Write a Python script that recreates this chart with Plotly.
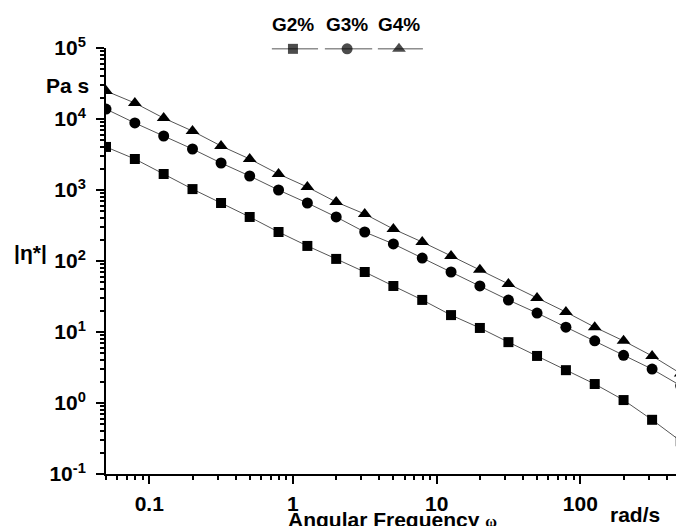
import plotly.graph_objects as go

# Angular frequency (rad/s)
omega = [0.05, 0.0794, 0.126, 0.2, 0.316, 0.5, 0.794, 1.26, 2.0, 3.16, 5.0, 7.94,
         12.6, 20.0, 31.6, 50.0, 79.4, 126.0, 200.0, 316.0, 500.0]

# Complex viscosity |eta*| (Pa s)
g2 = [4040, 2735, 1680, 1030, 656, 417, 256, 163, 107, 70, 44.5, 28.3,
      17.3, 11.4, 7.2, 4.6, 2.9, 1.85, 1.10, 0.58, 0.29]
g3 = [13800, 8790, 5760, 3780, 2400, 1575, 1000, 656, 417, 256, 174, 110,
      70, 44.5, 28.2, 18.5, 11.7, 7.5, 4.7, 3.0, 1.75]
g4 = [24800, 16800, 10300, 6760, 4170, 2735, 1680, 1100, 677, 459, 282, 185,
      118, 75, 47.4, 30.1, 19.1, 11.7, 7.5, 4.6, 2.6]

series_names = ["G2%", "G3%", "G4%"]
series_symbols = ["square", "circle", "triangle-up"]
series_sizes = [10, 11, 12]

y_tickvals = [0.1, 1, 10, 100, 1000, 10000, 100000]
y_ticktext = ["10<sup>-1</sup>", "10<sup>0</sup>", "10<sup>1</sup>", "10<sup>2</sup>",
              "10<sup>3</sup>", "10<sup>4</sup>", "10<sup>5</sup>"]
x_tickvals = [0.1, 1, 10, 100]
x_ticktext = ["0.1", "1", "10", "100"]

# legend key positions (overlay axis in plot-area fractions)
legend_x = [[0.291, 0.328, 0.372], [0.384, 0.423, 0.467], [0.477, 0.514, 0.556]]
legend_y = 0.998
legend_label_y = 1.056

FONT = "Liberation Sans, Arial, sans-serif"
LINE_COLOR = "#555555"

fig = go.Figure()
for name, ys, sym, sz in zip(series_names, [g2, g3, g4], series_symbols, series_sizes):
    fig.add_trace(go.Scatter(
        x=omega, y=ys, mode="lines+markers", name=name, showlegend=False,
        line=dict(color=LINE_COLOR, width=1),
        marker=dict(symbol=sym, size=sz, color="black", line=dict(width=0)),
        cliponaxis=True,
    ))

# legend keys
for name, lx, sym, sz in zip(series_names, legend_x, series_symbols, series_sizes):
    fig.add_trace(go.Scatter(
        x=lx, y=[legend_y] * 3, xaxis="x2", yaxis="y2", mode="lines+markers",
        showlegend=False, hoverinfo="skip", cliponaxis=False,
        line=dict(color=LINE_COLOR, width=1),
        marker=dict(symbol=sym, size=[0, sz, 0], color="black", line=dict(width=0)),
    ))
    fig.add_annotation(x=lx[1], y=legend_label_y, xref="paper", yref="paper",
                       text=name, showarrow=False, xanchor="center", yanchor="middle",
                       font=dict(family=FONT, size=19, color="black", weight="bold"))

axis_font = dict(family=FONT, size=21, color="black", weight="bold")

fig.update_layout(
    width=676, height=526,
    margin=dict(l=106, r=0, t=48, b=52, autoexpand=False),
    paper_bgcolor="white", plot_bgcolor="white",
    showlegend=False,
    xaxis=dict(
        type="log", range=[-1.301, 2.666], automargin=False,
        tickvals=x_tickvals, ticktext=x_ticktext,
        showline=True, linewidth=2, linecolor="black", mirror=False,
        ticks="outside", ticklen=8, tickwidth=2, tickcolor="black",
        ticklabelstandoff=2,
        minor=dict(ticks="outside", ticklen=4, tickwidth=1.5, tickcolor="black",
                   dtick="D1", showgrid=False),
        showgrid=False, zeroline=False, tickfont=axis_font,
    ),
    yaxis=dict(
        type="log", range=[-1, 5], automargin=False,
        tickvals=y_tickvals, ticktext=y_ticktext,
        showline=True, linewidth=2, linecolor="black", mirror=False,
        ticks="outside", ticklen=8, tickwidth=2, tickcolor="black",
        ticklabelstandoff=6,
        minor=dict(ticks="outside", ticklen=4, tickwidth=1.5, tickcolor="black",
                   dtick="D1", showgrid=False),
        showgrid=False, zeroline=False, tickfont=axis_font,
    ),
    xaxis2=dict(overlaying="x", range=[0, 1], anchor="y2", visible=False, fixedrange=True),
    yaxis2=dict(overlaying="y", range=[0, 1], anchor="x2", visible=False, fixedrange=True),
)

fig.add_annotation(x=0.5035, y=-0.106, xref="paper", yref="paper", showarrow=False,
                   text="Angular Frequency <span style='font-family:Liberation Serif;font-size:16px'>ω</span>",
                   xanchor="center", yanchor="middle", font=axis_font)
fig.add_annotation(x=0.928, y=-0.094, xref="paper", yref="paper", showarrow=False,
                   text="rad/s", xanchor="center", yanchor="middle", font=axis_font)
fig.add_annotation(x=-0.068, y=0.913, xref="paper", yref="paper", showarrow=False,
                   text="Pa s", xanchor="center", yanchor="middle", font=axis_font)
fig.add_annotation(x=-0.133, y=0.519, xref="paper", yref="paper", showarrow=False,
                   text="|η*|", xanchor="center", yanchor="middle", font=axis_font)

fig.write_html(
    "out.html",
    config={"displayModeBar": False},
    post_script="document.body.style.margin='0';document.body.style.overflow='hidden';",
)
